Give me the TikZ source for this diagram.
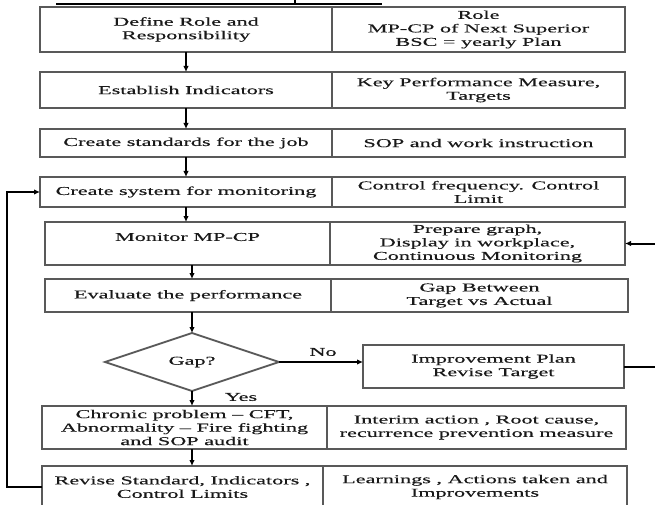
\documentclass[tikz,border=0pt]{standalone}
\usepackage{fontspec}
\setmainfont{Liberation Serif}[FakeStretch=1.85,FakeBold=0.4]
\usetikzlibrary{arrows.meta,shapes.geometric}
\begin{document}
\begin{tikzpicture}[x=1pt,y=-1pt,
  font=\fontsize{12}{13.5}\selectfont,
  cell/.style={draw=gray!70!black, line width=1.8pt, rectangle, inner sep=2pt, outer sep=0pt, align=center, text=gray!20!black},
  lbl/.style={inner sep=0pt, align=center, text=gray!20!black},
  arr/.style={draw=black, line width=2pt, -{Latex[length=6pt,width=5.5pt]}}]
\useasboundingbox (0,0) rectangle (655,505);
% title underline (text cut off)
\draw[line width=2.2pt] (56,4) -- (382,4);
\draw[line width=1.6pt] (295,0) -- (295,4);
% row 1
\node[cell, minimum width=292pt, minimum height=45pt] (l1) at (186,29.5) {Define Role and\\Responsibility};
\node[cell, minimum width=293pt, minimum height=45pt] (r1) at (478.5,29.5) {Role\\MP-CP of Next Superior\\BSC = yearly Plan};
% row 2
\node[cell, minimum width=292pt, minimum height=36pt] (l2) at (186,90) {Establish Indicators};
\node[cell, minimum width=293pt, minimum height=36pt] (r2) at (478.5,90) {Key Performance Measure,\\Targets};
% row 3
\node[cell, minimum width=292pt, minimum height=28pt] (l3) at (186,143) {Create standards for the job};
\node[cell, minimum width=293pt, minimum height=28pt] (r3) at (478.5,143) {SOP and work instruction};
% row 4
\node[cell, minimum width=292pt, minimum height=30pt] (l4) at (186,192) {Create system for monitoring};
\node[cell, minimum width=293pt, minimum height=30pt] (r4) at (478.5,192) {Control frequency. Control\\Limit};
% row 5
\node[cell, minimum width=285pt, minimum height=43pt] (l5) at (187.5,243.5) {};
\node[lbl] (l5t) at (187.5,237) {Monitor MP-CP};
\node[cell, minimum width=295pt, minimum height=43pt, inner sep=0pt] (r5) at (477.5,243.5) {Prepare graph,\\Display in workplace,\\Continuous Monitoring};
% row 6
\node[cell, minimum width=286pt, minimum height=33pt] (l6) at (188,295.5) {Evaluate the performance};
\node[cell, minimum width=297pt, minimum height=33pt] (r6) at (479.5,295.5) {Gap Between\\Target vs Actual};
% decision
\node[cell, diamond, minimum width=174pt, minimum height=58pt, inner sep=0pt] (dia) at (192,362) {Gap?};
\node[cell, minimum width=261pt, minimum height=43pt] (imp) at (493.5,366.5) {Improvement Plan\\Revise Target};
\node[lbl] (no) at (323,352) {No};
\node[lbl] (yes) at (241,397) {Yes};
% chronic row
\node[cell, minimum width=285pt, minimum height=43pt, inner sep=0pt] (cl) at (184.5,427.5) {Chronic problem -- CFT,\\Abnormality -- Fire fighting\\and SOP audit};
\node[cell, minimum width=299pt, minimum height=43pt] (cr) at (476.5,427.5) {Interim action , Root cause,\\recurrence prevention measure};
% revise row
\node[cell, minimum width=281pt, minimum height=42pt] (rl) at (182.5,487) {Revise Standard, Indicators ,\\Control Limits};
\node[cell, minimum width=304pt, minimum height=42pt] (rr) at (475,487) {Learnings , Actions taken and\\Improvements};
% helper coordinates
\coordinate (fbL) at (7,0);
\coordinate (fbR) at (662,0);
% arrows
\draw[arr] (l1.south) -- (l2.north);
\draw[arr] (l2.south) -- (l3.north);
\draw[arr] (l3.south) -- (l4.north);
\draw[arr] (l4.south) -- (l4.south |- l5.north);
\draw[arr] (l5.south -| dia.north) -- (l6.north -| dia.north);
\draw[arr] (l6.south -| dia.north) -- (dia.north);
\draw[arr] (dia.east) -- (dia.east -| imp.west);
\draw[arr] (dia.south) -- (dia.south |- cl.north);
\draw[arr] (cl.south -| dia.south) -- (rl.north -| dia.south);
\draw[arr, line width=2.6pt] (rl.west) -- (rl.west -| fbL) |- (l4.west);
\draw[arr] (imp.east) -- (imp.east -| fbR) |- (r5.east);
\end{tikzpicture}
\end{document}
